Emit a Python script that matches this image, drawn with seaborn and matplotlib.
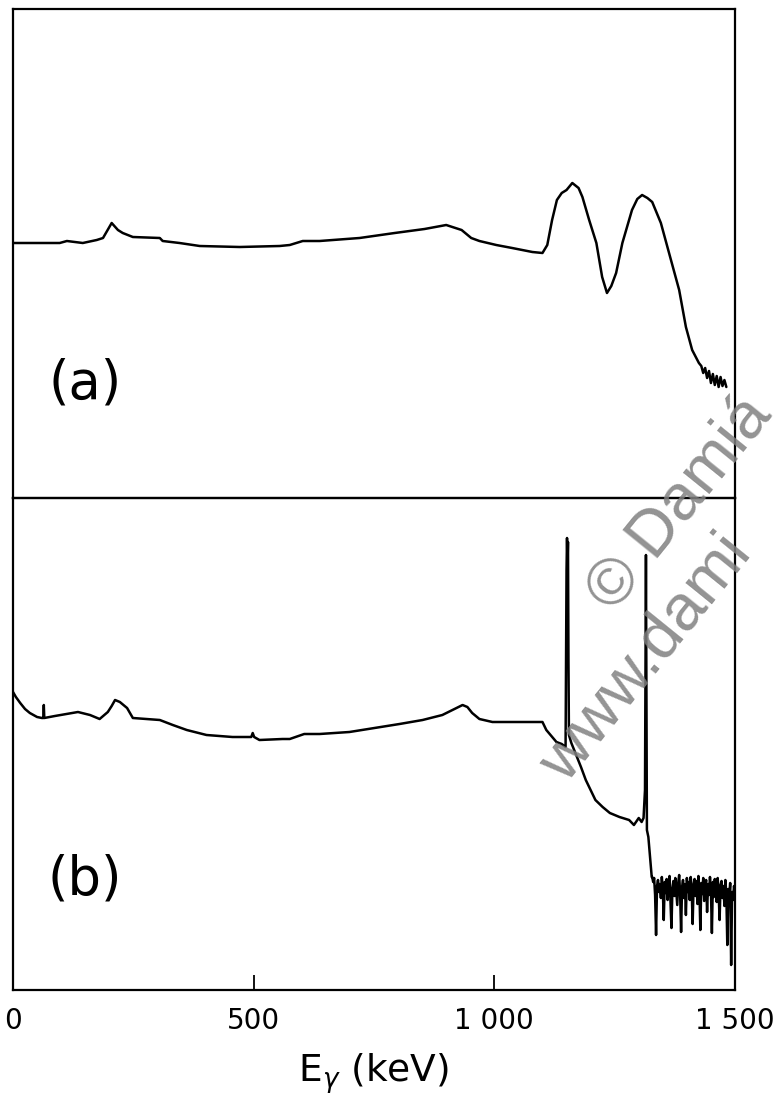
import numpy as np
import pandas as pd
import matplotlib
matplotlib.use("Agg")
import matplotlib.pyplot as plt
import seaborn as sns

# ---------------- data (energies in keV, counts in arbitrary units) ----------------
a_kev = [0, 97, 112, 145, 174, 187, 205, 218, 228, 249, 305, 311, 346, 388, 471, 554,
         575, 602, 637, 720, 793, 855, 900, 932, 952, 969, 1004, 1037, 1079, 1100,
         1110, 1120, 1130, 1140, 1150, 1162, 1175, 1183, 1197, 1212, 1224, 1234, 1243,
         1253, 1266, 1286, 1297, 1307, 1318, 1328, 1346, 1363, 1384, 1398, 1411, 1425,
         1430, 1434, 1438, 1442, 1446, 1450, 1454, 1458, 1462, 1466, 1470, 1474, 1478, 1482]
a_cts = [255, 255, 257, 255, 258, 260, 275, 268, 265, 261, 260, 257, 255, 252, 251, 252,
         253, 257, 257, 260, 265, 269, 273, 268, 260, 257, 253, 250, 246, 245,
         253, 278, 298, 305, 308, 315, 310, 301, 278, 255, 221, 205, 212,
         225, 255, 288, 299, 303, 300, 296, 275, 245, 208, 171, 148, 135,
         132, 125, 130, 120, 127, 115, 124, 113, 122, 111, 121, 112, 118, 111]

b_kev = [0, 6, 15, 25, 35, 50, 60, 63, 64, 65, 87, 135, 160, 180, 197, 205, 212, 222, 237,
         249, 305, 332, 361, 402, 456, 495, 498, 501, 512, 560, 575, 605, 637, 699, 751,
         803, 851, 892, 917, 934, 944, 954, 969, 996, 1052, 1100, 1108, 1129, 1140, 1148,
         1150, 1151, 1152, 1153, 1154, 1155, 1160, 1170, 1180, 1190, 1200, 1210, 1225,
         1240, 1260, 1280, 1290, 1300, 1306, 1310, 1313, 1315, 1317, 1320, 1324, 1327]
b_cts = [298, 293, 287, 281, 277, 273, 272, 272, 285, 272, 274, 278, 275, 271, 278, 284,
         290, 288, 282, 272, 270, 265, 260, 255, 253, 253, 257, 253, 250, 251, 251, 256,
         256, 258, 262, 266, 270, 275, 281, 285, 283, 277, 271, 268, 268, 268, 260, 248,
         246, 243, 420, 452, 425, 448, 330, 255, 247, 235, 223, 210, 200, 190, 183, 177,
         173, 170, 165, 172, 168, 172, 200, 435, 160, 153, 130, 113]

# noisy high-energy tail of spectrum (b), one value per 2 keV channel from 1328 keV
b_tail_cts = [113, 108, 112, 95, 55, 104, 110, 98, 106, 92, 113, 100, 70, 108, 97, 111,
              90, 105, 114, 88, 62, 102, 109, 94, 112, 99, 85, 107, 115, 96, 58, 103,
              110, 92, 106, 75, 112, 98, 108, 90, 113, 101, 66, 105, 111, 94, 109, 86,
              114, 100, 60, 107, 96, 112, 89, 104, 110, 78, 106, 95, 113, 99, 57, 108,
              93, 111, 102, 88, 112, 97, 70, 105, 109, 92, 104, 84, 110, 96, 45, 101,
              93, 107, 25, 98, 90, 104, 95]
b_tail_kev = list(range(1328, 1328 + 2 * len(b_tail_cts), 2))

tick_vals = [0, 500, 1000, 1500]
tick_labels = ["0", "500", "1 000", "1 500"]
panel_labels = ["(a)", "(b)"]

df_a = pd.DataFrame({"E": a_kev, "counts": a_cts})
df_b = pd.DataFrame({"E": b_kev + b_tail_kev, "counts": b_cts + b_tail_cts})

# ---------------- figure ----------------
sns.set_theme(style="white")
plt.rcParams["font.family"] = ["DejaVu Sans"]

W, H = 773, 1104
fig = plt.figure(figsize=(W / 100, H / 100), dpi=100)
L, R = 13, 735
ax_a = fig.add_axes([L / W, 1 - 498 / H, (R - L) / W, (498 - 9) / H])
ax_b = fig.add_axes([L / W, 1 - 990 / H, (R - L) / W, (990 - 498) / H])

for ax, df, top in ((ax_a, df_a, 489), (ax_b, df_b, 492)):
    sns.lineplot(data=df, x="E", y="counts", ax=ax, color="black", lw=1.8,
                 estimator=None, sort=False)
    ax.set_xlim(0, 1500)
    ax.set_ylim(0, top)
    ax.set_yticks([])
    ax.set_ylabel("")
    for s in ax.spines.values():
        s.set_color("black")
        s.set_linewidth(1.6)
    ax.patch.set_alpha(0)

ax_a.set_xticks([])
ax_a.set_xlabel("")

ax_b.set_xticks(tick_vals)
ax_b.set_xticklabels(tick_labels)
ax_b.tick_params(axis="x", which="major", bottom=True, direction="in", length=11,
                 width=1.3, color="black", pad=12, labelsize=20, labelcolor="black")
ax_b.set_xlabel(r"E$_{\gamma}$ (keV)", fontsize=27, labelpad=12, color="black")

ax_a.text(0.10, 0.235, panel_labels[0], transform=ax_a.transAxes, fontsize=38,
          ha="center", va="center", color="black")
ax_b.text(0.10, 0.224, panel_labels[1], transform=ax_b.transAxes, fontsize=38,
          ha="center", va="center", color="black")

# watermark (cut by the right edge, as in the reference)
wm = dict(color="0.5", alpha=0.85, rotation=51, rotation_mode="anchor",
          fontsize=47, family=["Liberation Sans", "DejaVu Sans"], zorder=10)
fig.text(600 / W, 1 - 603 / H, "© Damiá", ha="left", va="center", **wm)
fig.text(552 / W, 1 - 774 / H, "www.dami", ha="left", va="center", **wm)

fig.savefig("out.png", dpi=100, facecolor="white")
